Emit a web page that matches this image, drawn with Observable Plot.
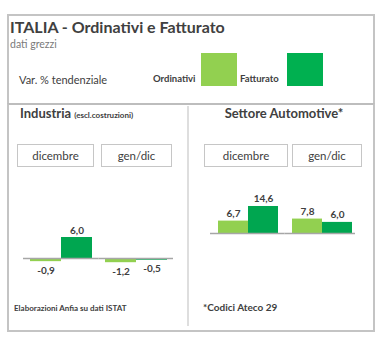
<!DOCTYPE html>
<html>
<head>
<meta charset="utf-8">
<script src="https://cdn.jsdelivr.net/npm/d3@7"></script>
<script src="https://cdn.jsdelivr.net/npm/@observablehq/plot@0.6"></script>
<style>
  html, body { margin: 0; padding: 0; background: #fff; }
  body { width: 385px; height: 341px; position: relative; overflow: hidden; font-family: Lato, "Open Sans", sans-serif; color: #404040; }
  .abs { position: absolute; white-space: nowrap; line-height: 1; }
  .box { position: absolute; box-sizing: border-box; }
  .btn { position: absolute; box-sizing: border-box; border: 1px solid #c6c6c6; background: #fff; font-size: 11.5px; color: #404040; display: flex; align-items: center; justify-content: center; }
  .plot { position: absolute; }
</style>
</head>
<body>
<div class="box" style="left:7px; top:14px; width:368px; height:91px; border:2px solid #c4c4c4;"></div>
<div class="box" style="left:7px; top:103px; width:368px; height:229px; border:2px solid #c4c4c4; border-top:2px solid #bdbdbd;"></div>
<div class="box" style="left:187px; top:106px; width:2px; height:220px; background:#dedede;"></div>

<div class="abs" style="left:10px; top:19px; font-size:16px; font-weight:bold; color:#404040;">ITALIA - Ordinativi e Fatturato</div>
<div class="abs" style="left:10px; top:39px; font-size:10.5px; color:#7a7a7a;">dati grezzi</div>
<div class="abs" style="left:19px; top:74px; font-size:11px; color:#404040;">Var. % tendenziale</div>
<div class="abs" style="left:153px; top:74px; font-size:9.5px; font-weight:bold; color:#404040;">Ordinativi</div>
<div class="box" style="left:201px; top:53px; width:36px; height:33px; background:#92D050;"></div>
<div class="abs" style="left:240px; top:74px; font-size:9.5px; font-weight:bold; color:#404040;">Fatturato</div>
<div class="box" style="left:287px; top:53px; width:36px; height:33px; background:#00B050;"></div>

<div class="abs" style="left:20px; top:107px; font-size:13px; font-weight:bold; color:#404040;">Industria <span style="font-size:8px;">(escl.costruzioni)</span></div>
<div class="abs" style="left:220px; top:107px; width:128px; text-align:center; font-size:13px; font-weight:bold; color:#404040;">Settore Automotive*</div>

<div class="btn" style="left:17px; top:144px; width:77px; height:23px;">dicembre</div>
<div class="btn" style="left:101px; top:144px; width:71px; height:23px;">gen/dic</div>
<div class="btn" style="left:204px; top:144px; width:84px; height:23px;">dicembre</div>
<div class="btn" style="left:292px; top:144px; width:70px; height:23px;">gen/dic</div>

<div class="abs" style="left:14px; top:304px; font-size:8px; font-weight:bold; color:#404040;">Elaborazioni Anfia su dati ISTAT</div>
<div class="abs" style="left:203px; top:302px; font-size:10px; font-weight:bold; color:#404040;">*Codici Ateco 29</div>

<div id="left" class="plot" style="left:23px; top:215px;"></div>
<div id="right" class="plot" style="left:210px; top:185px;"></div>

<script>
// ---- data ----
const periods = ["dicembre", "gen/dic"];
const series = ["Ordinativi", "Fatturato"];
const industriaOrdinativi = [-0.9, -1.2];
const industriaFatturato = [6.0, -0.5];
const automotiveOrdinativi = [6.7, 7.8];
const automotiveFatturato = [14.6, 6.0];
const colors = ["#92D050", "#00A650"];

function rows(ord, fat) {
  return periods.flatMap((p, i) => [
    {period: p, series: series[0], value: ord[i]},
    {period: p, series: series[1], value: fat[i]}
  ]);
}
const fmt = v => v.toFixed(1).replace(".", ",");

function panel(data, {width, height, yDomain, paddingInner, paddingOuter, align, outerL, outerR, gap}) {
  const textOpts = {
    fx: "period", x: "series", y: "value", text: d => fmt(d.value),
    fontSize: 10, fontWeight: "bold", fill: "#404040", fontFamily: "Lato, sans-serif"
  };
  const ruleOpts = {fx: d => d, y: () => 0, stroke: "#a6a6a6", strokeWidth: 1.5};
  return Plot.plot({
    width, height,
    marginTop: 0, marginBottom: 0, marginLeft: 0, marginRight: 0,
    fx: {domain: periods, paddingInner, paddingOuter, align, axis: null, label: null},
    x: {domain: series, padding: 0, axis: null},
    y: {domain: yDomain, axis: null},
    color: {domain: series, range: colors},
    style: {background: "transparent", overflow: "visible"},
    marks: [
      Plot.barY(data, {fx: "period", x: "series", y: "value", fill: "series"}),
      Plot.ruleY([periods[0]], {...ruleOpts, insetLeft: -outerL, insetRight: -gap / 2}),
      Plot.ruleY([periods[1]], {...ruleOpts, insetLeft: -gap / 2, insetRight: -outerR}),
      Plot.text(data.filter(d => d.value >= 0), {...textOpts, lineAnchor: "bottom", dy: -4}),
      Plot.text(data.filter(d => d.value < 0), {...textOpts, lineAnchor: "top", dy: 5})
    ]
  });
}

document.getElementById("left").append(panel(rows(industriaOrdinativi, industriaFatturato), {
  width: 150, height: 70, yDomain: [-27 / 3.5, 43 / 3.5],
  paddingInner: 13 / 75, paddingOuter: 6.5 / 75, align: 0.5, outerL: 7, outerR: 6, gap: 13
}));
document.getElementById("right").append(panel(rows(automotiveOrdinativi, automotiveFatturato), {
  width: 145, height: 60, yDomain: [-12 / 1.85, 48 / 1.85],
  paddingInner: 13 / 74, paddingOuter: 5 / 74, align: 0.7, outerL: 7, outerR: 3, gap: 13
}));
</script>
</body>
</html>
